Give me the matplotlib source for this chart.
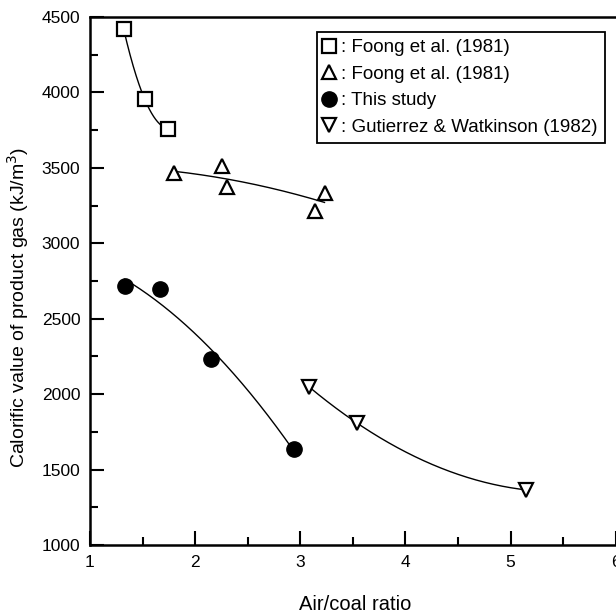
import numpy as np
import matplotlib
matplotlib.use("Agg")
import matplotlib.pyplot as plt
from matplotlib.ticker import MultipleLocator

plt.rcParams['font.family'] = ['Liberation Sans', 'DejaVu Sans']

# data
sq_x = [1.32, 1.52, 1.74]
sq_y = [4420, 3955, 3760]

tri_x = [1.80, 2.26, 2.30, 3.14, 3.23]
tri_y = [3465, 3510, 3370, 3215, 3335]

circ_x = [1.33, 1.67, 2.15, 2.94]
circ_y = [2715, 2700, 2230, 1635]

inv_x = [3.08, 3.54, 5.15]
inv_y = [2050, 1808, 1365]

labels = [": Foong et al. (1981)", ": Foong et al. (1981)",
          ": This study", ": Gutierrez & Watkinson (1982)"]


def fit_curve(ax, x, y, deg=2):
    c = np.polyfit(x, y, deg)
    xs = np.linspace(min(x), max(x), 200)
    ax.plot(xs, np.polyval(c, xs), color='black', lw=1.0, zorder=2)


fig = plt.figure(figsize=(6.16, 6.14), dpi=100)
ax = fig.add_axes([90 / 616, 69 / 614, 530 / 616, 528 / 614])

fit_curve(ax, sq_x, sq_y)
fit_curve(ax, tri_x, tri_y)
fit_curve(ax, circ_x, circ_y)
fit_curve(ax, inv_x, inv_y)

h1, = ax.plot(sq_x, sq_y, 's', ms=9.5, mfc='white', mec='black', mew=1.6, ls='none', zorder=3)
h2, = ax.plot(tri_x, tri_y, '^', ms=10.5, mfc='white', mec='black', mew=1.6, ls='none', zorder=3)
h3, = ax.plot(circ_x, circ_y, 'o', ms=11, mfc='black', mec='black', ls='none', zorder=3)
h4, = ax.plot(inv_x, inv_y, 'v', ms=10.5, mfc='white', mec='black', mew=1.6, ls='none', zorder=3)

ax.set_xlim(1, 6.04)
ax.set_ylim(1000, 4500)
ax.xaxis.set_major_locator(MultipleLocator(1))
ax.xaxis.set_minor_locator(MultipleLocator(0.5))
ax.yaxis.set_major_locator(MultipleLocator(500))
ax.yaxis.set_minor_locator(MultipleLocator(250))
ax.set_xticks([1, 2, 3, 4, 5, 6])
ax.tick_params(which='both', direction='in', width=1.5, top=False, right=False,
               labelsize=12.5, pad=7)
ax.tick_params(which='major', length=10)
ax.tick_params(which='minor', length=6)
for s in ax.spines.values():
    s.set_linewidth(1.8)
ax.spines['right'].set_visible(False)

ax.set_xlabel("Air/coal ratio", fontsize=14.5, labelpad=18)
ax.set_ylabel("Calorific value of product gas (kJ/m$^3$)", fontsize=14)
ax.yaxis.set_label_coords(-0.111, 0.45)

leg = ax.legend([h1, h2, h3, h4], labels, loc='upper right',
                bbox_to_anchor=(0.979 * 526 / 530, 0.972), borderaxespad=0,
                fontsize=13.5, fancybox=False, framealpha=1, edgecolor='black',
                handlelength=0.5, handletextpad=0.4, labelspacing=0.5,
                borderpad=0.4)
leg.get_frame().set_linewidth(1.3)

fig.savefig("out.png", dpi=100)
